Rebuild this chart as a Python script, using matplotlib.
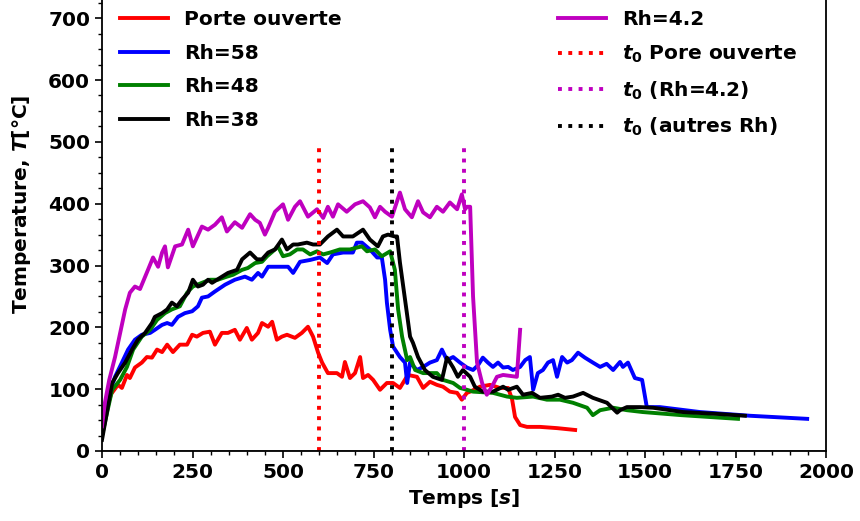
import matplotlib
matplotlib.use("Agg")
import matplotlib.pyplot as plt
from matplotlib.ticker import MultipleLocator

plt.rcParams["font.family"] = ["DejaVu Sans"]
plt.rcParams["font.weight"] = "bold"
plt.rcParams["axes.labelweight"] = "bold"
plt.rcParams["mathtext.fontset"] = "custom"
plt.rcParams["mathtext.it"] = "DejaVu Sans:italic:bold"
plt.rcParams["mathtext.rm"] = "DejaVu Sans:bold"
plt.rcParams["mathtext.bf"] = "DejaVu Sans:bold"

# Porte ouverte
t_porte = [0, 10, 25, 44, 55, 69, 77, 91, 110, 124, 138, 152, 166, 180, 196, 215, 235, 249,
           262, 279, 298, 312, 331, 348, 367, 381, 400, 414, 431, 442, 459, 470, 483, 497,
           511, 533, 552, 569, 583, 597, 608, 624, 649, 663, 671, 685, 699, 713, 721, 735,
           749, 768, 787, 804, 823, 845, 870, 887, 906, 925, 942, 961, 981, 994, 1008, 1017,
           1044, 1072, 1099, 1122, 1133, 1141, 1155, 1174, 1210, 1257, 1307]
T_porte = [25, 62, 92, 107, 102, 123, 118, 135, 143, 152, 151, 164, 160, 172, 160, 172, 172, 188,
           185, 191, 193, 172, 191, 191, 196, 180, 199, 180, 191, 207, 201, 209, 180, 185,
           188, 183, 191, 201, 185, 159, 143, 126, 126, 120, 144, 118, 126, 152, 118, 123,
           115, 99, 110, 110, 102, 123, 120, 102, 112, 107, 104, 96, 94, 83, 94, 96,
           104, 107, 102, 102, 83, 55, 42, 39, 39, 37, 34]

# Rh = 58
t_rh58 = [0, 17, 36, 55, 72, 91, 110, 133, 146, 166, 180, 193, 210, 229, 249, 265, 276, 293,
          312, 340, 367, 395, 414, 431, 442, 459, 478, 497, 514, 528, 547, 575, 602, 622,
          638, 666, 693, 704, 718, 740, 760, 773, 782, 787, 796, 804, 823, 837, 843, 851,
          870, 887, 906, 925, 939, 953, 970, 989, 1008, 1025, 1039, 1052, 1066, 1080, 1094,
          1108, 1122, 1135, 1155, 1169, 1182, 1191, 1204, 1218, 1232, 1246, 1257, 1271,
          1285, 1298, 1315, 1334, 1356, 1376, 1394, 1412, 1431, 1439, 1453, 1472, 1492,
          1505, 1541, 1652, 1790, 1948]
T_rh58 = [30, 88, 120, 143, 164, 180, 188, 191, 196, 204, 207, 204, 217, 223, 226, 234, 248, 250,
          258, 269, 277, 282, 277, 288, 282, 298, 298, 298, 298, 288, 306, 309, 313, 304,
          318, 321, 321, 337, 337, 326, 313, 313, 277, 240, 196, 169, 152, 143, 110, 143,
          131, 136, 143, 147, 164, 147, 152, 143, 135, 131, 139, 151, 143, 136, 143,
          135, 136, 131, 136, 147, 152, 99, 126, 131, 143, 147, 120, 152,
          143, 147, 159, 151, 143, 136, 141, 131, 144, 136, 143, 118, 115,
          71, 71, 63, 57, 52]

# Rh = 48
t_rh48 = [0, 28, 50, 69, 86, 110, 133, 152, 174, 193, 215, 235, 251, 276, 298, 320, 345, 362,
          387, 403, 423, 442, 456, 472, 486, 500, 519, 539, 555, 575, 594, 611, 630, 657,
          685, 704, 718, 732, 754, 773, 796, 809, 818, 829, 843, 851, 865, 887, 925, 942,
          970, 989, 1008, 1025, 1080, 1119, 1146, 1191, 1229, 1265, 1301, 1340, 1356, 1376,
          1412, 1450, 1494, 1600, 1757]
T_rh48 = [25, 99, 115, 136, 164, 185, 196, 212, 223, 229, 234, 256, 266, 272, 277, 277, 282, 285,
          293, 296, 304, 306, 315, 323, 331, 315, 318, 326, 326, 318, 323, 318, 321, 326,
          326, 329, 331, 323, 326, 315, 323, 293, 229, 185, 147, 152, 131, 126, 126, 115,
          110, 102, 99, 96, 94, 88, 86, 88, 83, 83, 78, 70, 58, 66,
          70, 66, 63, 58, 52]

# Rh = 38
t_rh38 = [0, 28, 44, 64, 83, 99, 119, 138, 146, 166, 180, 193, 207, 221, 238, 251, 265, 279,
          293, 304, 326, 348, 373, 387, 409, 428, 442, 459, 478, 497, 511, 528, 541, 566,
          583, 602, 624, 649, 666, 693, 721, 740, 762, 776, 790, 809, 815, 823, 842, 851,
          859, 873, 892, 914, 939, 953, 970, 983, 997, 1017, 1030, 1052, 1080, 1108, 1122,
          1146, 1163, 1188, 1210, 1243, 1260, 1279, 1301, 1329, 1356, 1395, 1423, 1431,
          1450, 1486, 1522, 1605, 1699, 1776]
T_rh38 = [18, 110, 126, 143, 164, 180, 191, 207, 217, 223, 229, 240, 234, 245, 256, 277, 266, 269,
          277, 272, 280, 288, 293, 310, 321, 310, 310, 321, 326, 342, 326, 334, 334, 337,
          334, 334, 347, 358, 347, 347, 358, 342, 331, 347, 350, 347, 347, 305, 224, 185,
          175, 152, 131, 120, 115, 151, 135, 120, 131, 120, 104, 96, 96, 104, 99,
          104, 91, 94, 86, 88, 91, 86, 88, 94, 86, 78, 62, 66,
          71, 71, 70, 63, 60, 57]

# Rh = 4.2
t_rh42 = [0, 8, 20, 36, 64, 77, 91, 105, 127, 141, 155, 166, 174, 182, 202, 221, 238, 251,
          276, 293, 312, 331, 345, 367, 387, 409, 423, 436, 450, 459, 478, 500, 514, 533,
          547, 569, 594, 611, 624, 638, 652, 676, 699, 721, 740, 754, 768, 782, 801, 823,
          837, 856, 873, 887, 906, 925, 942, 961, 981, 994, 1003, 1008, 1017, 1025, 1036,
          1050, 1063, 1077, 1091, 1108, 1146, 1155]
T_rh42 = [40, 78, 115, 152, 229, 256, 266, 262, 293, 313, 298, 321, 331, 297, 331, 334, 358, 331,
          363, 358, 366, 378, 355, 370, 361, 383, 374, 369, 350, 361, 387, 399, 374, 395,
          404, 379, 391, 377, 395, 379, 399, 387, 399, 404, 394, 378, 395, 387, 379, 418,
          391, 378, 404, 386, 378, 395, 387, 402, 391, 415, 391, 395, 395, 250, 143,
          110, 91, 104, 120, 123, 120, 196]

# Start times t0
t0_porte = 600
t0_rh42 = 1000
t0_autres = 800
t0_top = 500

fig = plt.figure(figsize=(8.6, 5.21), dpi=100)
ax = fig.add_axes([102 / 860, 70 / 521, 724 / 860, 494 / 521])

lw = 2.8
ax.plot(t_porte, T_porte, color="red", lw=lw, label="Porte ouverte")
ax.plot(t_rh58, T_rh58, color="blue", lw=lw, label="Rh=58")
ax.plot(t_rh48, T_rh48, color="green", lw=lw, label="Rh=48")
ax.plot(t_rh38, T_rh38, color="black", lw=lw, label="Rh=38")
ax.plot(t_rh42, T_rh42, color="m", lw=lw, label="Rh=4.2")
ax.vlines(t0_porte, 0, t0_top, colors="red", linestyles=":", lw=lw,
          label="$t_0$ Pore ouverte")
ax.vlines(t0_rh42, 0, t0_top, colors="m", linestyles=":", lw=lw,
          label="$t_0$ (Rh=4.2)")
ax.vlines(t0_autres, 0, t0_top, colors="black", linestyles=":", lw=lw,
          label="$t_0$ (autres Rh)")
ax.axhline(0, color="0.5", lw=2, zorder=0)

ax.set_xlim(0, 2000)
ax.set_ylim(0, 799)
ax.xaxis.set_major_locator(MultipleLocator(250))
ax.xaxis.set_minor_locator(MultipleLocator(50))
ax.yaxis.set_major_locator(MultipleLocator(100))
ax.yaxis.set_minor_locator(MultipleLocator(25))
ax.tick_params(axis="both", which="major", labelsize=14.5, length=5, width=1.2)
ax.tick_params(axis="both", which="minor", length=3, width=1)
for lab in ax.get_xticklabels() + ax.get_yticklabels():
    lab.set_fontweight("bold")
for sp in ax.spines.values():
    sp.set_linewidth(1.3)

ax.set_xlabel("Temps [$s$]", fontsize=14.5, fontweight="bold", labelpad=4)
ax.set_ylabel("Temperature, $T$[°C]", fontsize=14.5, fontweight="bold", labelpad=11)

ax.legend(loc="upper left", bbox_to_anchor=(112 / 860, 1 - 2 / 521),
          bbox_transform=fig.transFigure, ncol=2, frameon=False,
          prop={"size": 14.5, "weight": "bold"}, handlelength=2.4,
          columnspacing=10.7, labelspacing=0.72, borderaxespad=0)

fig.savefig("out.png", dpi=100)
